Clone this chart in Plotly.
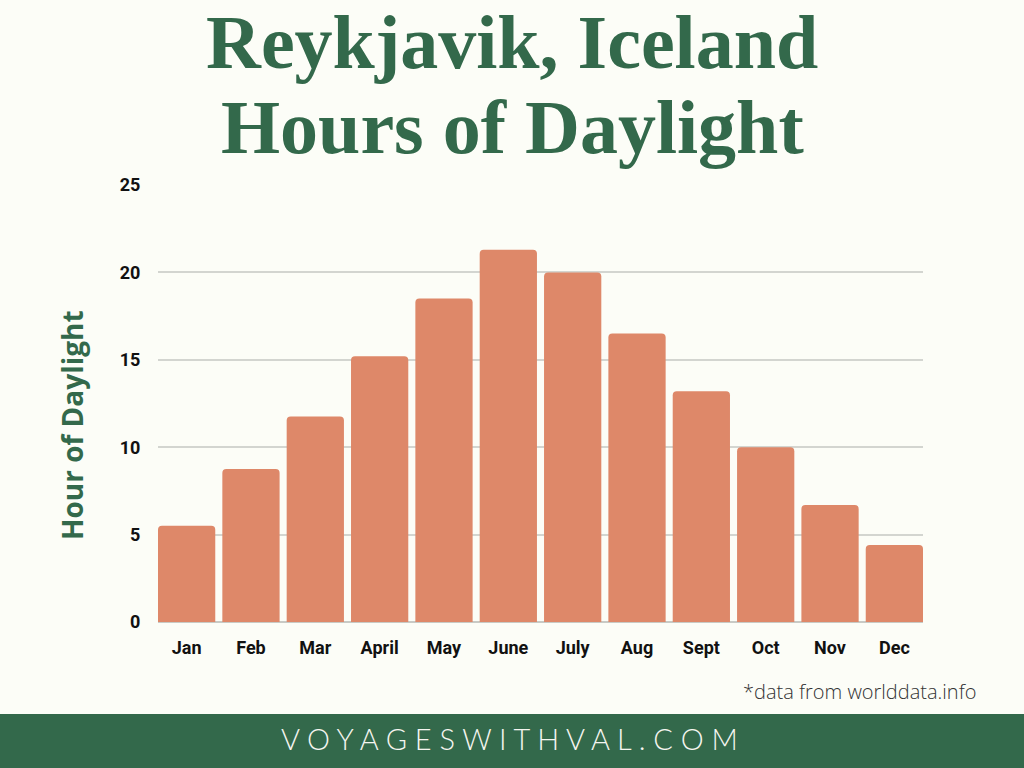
import plotly.graph_objects as go

months = ["Jan", "Feb", "Mar", "April", "May", "June", "July", "Aug", "Sept", "Oct", "Nov", "Dec"]
daylight_hours = [5.5, 8.75, 11.75, 15.2, 18.5, 21.3, 20.0, 16.5, 13.2, 10.0, 6.7, 4.4]
y_ticks = [0, 5, 10, 15, 20, 25]

BG = "#FCFDF7"
GREEN = "#33694B"
BAR = "#DE8869"
W, H = 1024, 768
ML, MR, MT, MB = 158, 101, 185, 146
PW, PH = W - ML - MR, H - MT - MB
GAP = 0.11


def px(x):
    return (x - ML) / PW


def py(y):
    return (H - MB - y) / PH


tick_font = dict(family="Roboto, DejaVu Sans", size=18, color="#111111", weight="bold")

fig = go.Figure(go.Bar(
    x=months, y=daylight_hours,
    marker=dict(color=BAR, line=dict(width=0), cornerradius=4),
    hoverinfo="skip",
))

fig.update_layout(
    width=W, height=H,
    margin=dict(l=ML, r=MR, t=MT, b=MB),
    paper_bgcolor=BG, plot_bgcolor=BG,
    bargap=GAP,
    showlegend=False,
    xaxis=dict(
        range=[-0.5 + GAP / 2, len(months) - 0.5 - GAP / 2],
        showgrid=False, showline=False, zeroline=False,
        ticks="outside", ticklen=9, tickcolor="rgba(0,0,0,0)",
        tickfont=tick_font,
    ),
    yaxis=dict(
        range=[0, 25], tickvals=y_ticks,
        showgrid=True, gridcolor="#D3D5D0", gridwidth=1.5,
        zeroline=True, zerolinecolor="#C8CAC5", zerolinewidth=1.5,
        showline=False,
        ticks="outside", ticklen=13, tickcolor="rgba(0,0,0,0)",
        tickfont=tick_font,
    ),
    annotations=[
        dict(text="Reykjavik, Iceland", x=px(512), y=py(42), xref="paper", yref="paper",
             showarrow=False, xanchor="center", yanchor="middle",
             font=dict(family="Liberation Serif", size=76, color=GREEN, weight="bold")),
        dict(text="Hours of Daylight", x=px(512), y=py(127), xref="paper", yref="paper",
             showarrow=False, xanchor="center", yanchor="middle",
             font=dict(family="Liberation Serif", size=76, color=GREEN, weight="bold")),
        dict(text="Hour of Daylight", x=px(72), y=py(425), xref="paper", yref="paper",
             showarrow=False, xanchor="center", yanchor="middle", textangle=-90,
             font=dict(family="Open Sans", size=28, color=GREEN, weight="bold")),
        dict(text="*data from worlddata.info", x=px(978), y=py(691), xref="paper", yref="paper",
             showarrow=False, xanchor="right", yanchor="middle",
             font=dict(family="Open Sans", size=20, color="#333333", weight=300)),
        dict(text="V O Y A G E S W I T H V A L . C O M", x=px(509), y=py(738), xref="paper", yref="paper",
             showarrow=False, xanchor="center", yanchor="middle",
             font=dict(family="Lato", size=29, color="#F5F5F0", weight=300)),
    ],
    shapes=[dict(
        type="rect", xref="paper", yref="paper",
        x0=px(0), x1=px(W), y0=py(H), y1=py(714),
        fillcolor=GREEN, line=dict(width=0), layer="below",
    )],
)

fig.write_html("out.html")
